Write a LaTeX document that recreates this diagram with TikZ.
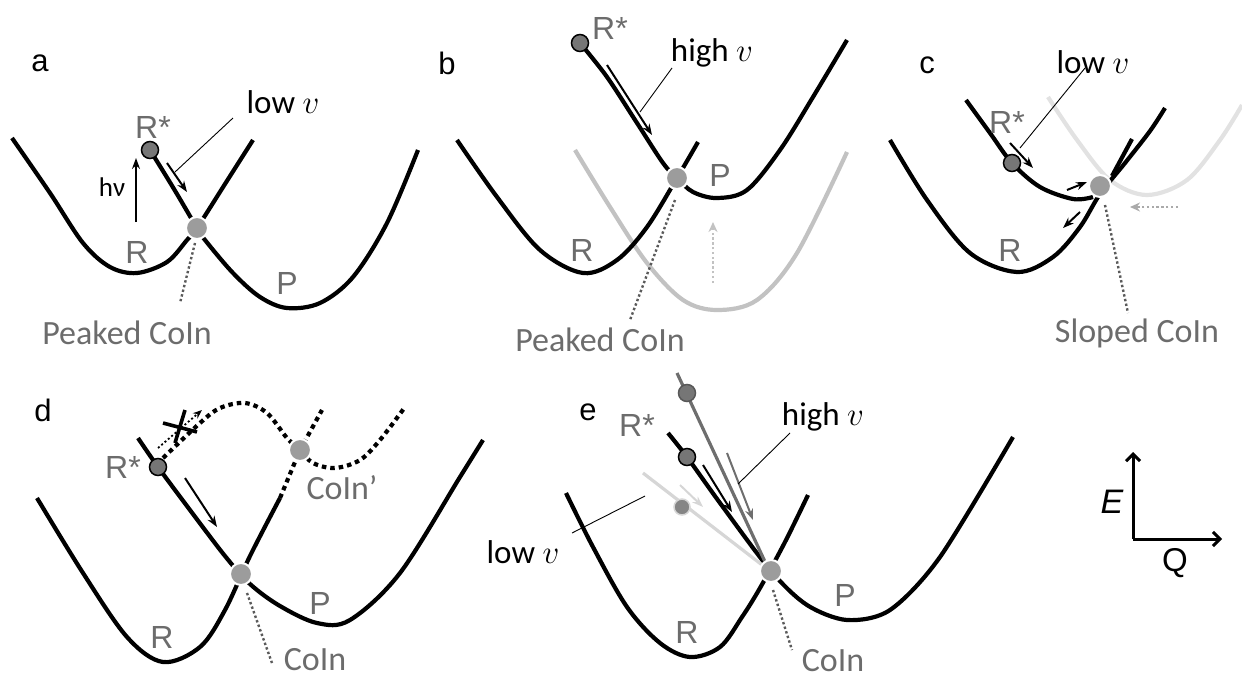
\documentclass[tikz,border=0pt]{standalone}
\usepackage{fix-cm}
\usepackage{fontspec}
\setmainfont{Carlito}
\newfontfamily\arialf{Liberation Sans}
\usetikzlibrary{arrows.meta}
\definecolor{tg}{HTML}{6C6C6C}
\definecolor{coing}{HTML}{9C9C9C}
\definecolor{rdotg}{HTML}{767676}
\definecolor{pale}{HTML}{C2C2C2}
\definecolor{paler}{HTML}{E2E2E2}
\definecolor{dotg}{HTML}{5A5A5A}
\definecolor{midg}{HTML}{6E6E6E}
\definecolor{lightl}{HTML}{D6D6D6}
\tikzset{
  surf/.style={line width=4.2pt},
  coin/.style={circle, fill=coing, draw=white, line width=2pt, minimum size=22pt, inner sep=0pt},
  rdot/.style={circle, fill=rdotg, draw=black, line width=1.5pt, minimum size=17pt, inner sep=0pt},
  glbl/.style={font=\arialf\fontsize{32}{36}\selectfont, text=tg, inner sep=0pt},
  plbl/.style={font=\arialf\fontsize{31}{36}\selectfont, inner sep=0pt},
  cilbl/.style={font=\fontsize{34}{40}\selectfont, text=tg, inner sep=0pt},
  vlbl/.style={font=\fontsize{33}{40}\selectfont, inner sep=0pt},
  lead/.style={line width=0.9pt},
  marr/.style={line width=2pt, -{Stealth[length=11pt,width=8pt]}},
  cdot/.style={line width=2.4pt, dotg, dash pattern=on 2.4pt off 2.4pt},
  garr/.style={line width=2.2pt, dash pattern=on 2.4pt off 2.4pt, -{Stealth[length=10pt,width=9pt]}},
  thickdot/.style={line width=4.2pt, dash pattern=on 4.5pt off 4pt},
}
\begin{document}
\begin{tikzpicture}[x=1pt,y=-1pt]
\useasboundingbox (0,0) rectangle (1242,678);

% ---------------- panel a
\node[plbl] (pa) at (40,63) {a};
\draw[surf] plot[smooth,tension=0.55] coordinates {(12,138) (50,193) (83,243) (110,267) (137,273) (167,262) (187,240) (197,228) (225,184) (253,140)};
\draw[surf] plot[smooth,tension=0.55] coordinates {(150,150) (174,189) (197,228) (205,240) (233,273) (260,297) (287,308) (320,303) (353,277) (387,223) (418,150)};
\node[coin] (ca) at (197,228) {};
\node[rdot] (ra) at (150,150) {};
\node[glbl] (rsa) at (153,127) {R*};
\node[glbl] (rla) at (137,252) {R};
\node[glbl] (pla) at (287,283) {P};
\coordinate (hva1) at (136,222);
\coordinate (hva2) at (136,158);
\draw[marr] (hva1) -- (hva2);
\node[font=\fontsize{27}{30}\selectfont, inner sep=0pt] (hva) at (112,187) {hν};
\coordinate (lva1) at (167,163);
\coordinate (lva2) at (187,192);
\draw[marr] (lva1) -- (lva2);
\node[vlbl] (lva) at (283,102) {low $v$};
\coordinate (lda) at (233,118);
\coordinate (ldb) at (175,172);
\draw[lead] (lda) -- (ldb);
\coordinate (dta) at (180,303);
\draw[cdot] (195,243) -- (dta);
\node[cilbl] (pca) at (127,333) {Peaked CoIn};

% ---------------- panel b
\node[plbl] (pb) at (447,63) {b};
\draw[surf, pale] plot[smooth,tension=0.55] coordinates {(575,150) (610,207) (647,263) (683,300) (717,310) (757,300) (797,253) (847,152)};
\draw[surf] plot[smooth,tension=0.55] coordinates {(457,140) (497,197) (540,250) (583,273) (617,260) (647,227) (677,178) (698,142)};
\draw[surf] plot[smooth,tension=0.55] coordinates {(580,43) (607,77) (637,123) (663,163) (677,178) (693,192) (717,198) (747,190) (780,150) (813,97) (847,40)};
\draw[garr, pale] (713,283) -- (713,222);
\node[coin] (cb) at (677,178) {};
\node[rdot] (rb) at (580,43) {};
\node[glbl] (rsb) at (610,28) {R*};
\node[glbl] (rlb) at (582,250) {R};
\node[glbl] (plb) at (720,175) {P};
\draw[marr] (607,65) -- (652,135);
\node[vlbl] (hvb) at (712,53) {high $v$};
\draw[lead] (672,68) -- (640,112);
\draw[cdot] (675,200) -- (630,320);
\node[cilbl] (pcb) at (600,340) {Peaked CoIn};

% ---------------- panel c
\node[plbl] (pc) at (927,65) {c};
\draw[surf, paler] plot[smooth,tension=0.55] coordinates {(1048,97) (1077,140) (1110,180) (1147,195) (1187,180) (1220,140) (1242,105)};
\draw[garr, paler!75!black] (1178,207) -- (1130,207);
\draw[surf] plot[smooth,tension=0.55] coordinates {(890,140) (927,200) (970,253) (1017,272) (1053,257) (1080,227) (1100,194) (1125,163) (1150,131) (1165,108)};
\draw[surf] plot[smooth,tension=0.55] coordinates {(966,100) (990,133) (1012,163) (1040,187) (1073,199) (1093,197)};
\draw[surf] (1112,176) -- (1132,139);
\node[coin] (cc) at (1100,186) {};
\node[rdot] (rc) at (1012,163) {};
\node[glbl] (rsc) at (1007,122) {R*};
\node[glbl] (rlc) at (1010,250) {R};
\draw[marr] (1010,143) -- (1033,168);
\draw[marr] (1067,190) -- (1087,182);
\draw[marr] (1080,212) -- (1063,228);
\node[vlbl] (lvc) at (1093,62) {low $v$};
\draw[lead] (1085,68) -- (1020,148);
\draw[cdot] (1105,205) -- (1128,313);
\node[cilbl] (scc) at (1137,333) {Sloped CoIn};

% ---------------- panel d
\node[plbl] (pd) at (43,410) {d};
\draw[surf] plot[smooth,tension=0.55] coordinates {(37,498) (83,573) (127,637) (163,662) (200,647) (225,610) (250,556) (280,498)};
\draw[thickdot] (280,498) -- (300,450) -- (322,410);
\draw[surf] plot[smooth,tension=0.55] coordinates {(138,438) (158,467) (190,510) (225,556) (250,584) (280,606) (317,623) (350,620) (400,573) (460,477) (483,440)};
\draw[thickdot] plot[smooth,tension=0.55] coordinates {(163,458) (200,423) (220,408) (245,403) (267,413) (287,438) (300,450) (313,463) (335,468) (360,460) (380,440) (405,407)};
\draw[line width=1.8pt, dash pattern=on 2pt off 2.4pt, -{Stealth[length=9pt,width=7pt]}] (158,448) -- (202,410);
\draw[line width=3.6pt] (185,410) -- (175,443);
\draw[line width=3.6pt] (163,423) -- (197,432);
\draw[marr] (185,478) -- (217,527);
\node[coin] (cd) at (241,574) {};
\node[coin] (cd2) at (300,450) {};
\node[rdot] (rd) at (158,467) {};
\node[glbl] (rsd) at (123,467) {R*};
\node[cilbl] (cpd) at (342,488) {CoIn’};
\node[glbl] (pld) at (320,603) {P};
\node[glbl] (rld) at (162,637) {R};
\draw[cdot] (247,593) -- (272,663);
\node[cilbl] (cid) at (315,660) {CoIn};

% ---------------- panel e
\node[plbl] (pe) at (588,412) {e};
\draw[surf] plot[smooth,tension=0.55] coordinates {(566,493) (593,547) (627,607) (660,643) (690,657) (720,647) (742,617) (760,588) (785,542) (808,495)};
\draw[surf] plot[smooth,tension=0.5] coordinates {(668,433) (687,457) (720,503) (771,571) (807,605) (847,620) (890,610) (940,557) (1013,437)};
\draw[line width=3.2pt, lightl] (643,473) -- (766,568);
\draw[line width=3.2pt, midg] (677,373) -- (767,566);
\draw[marr] (703,465) -- (732,512);
\draw[line width=2pt, midg, -{Stealth[length=11pt,width=8pt]}] (727,453) -- (753,520);
\draw[line width=2pt, lightl, -{Stealth[length=11pt,width=8pt]}] (680,485) -- (703,507);
\node[coin] (ce) at (771,571) {};
\node[rdot] (re) at (687,457) {};
\node[circle, fill=rdotg, draw=midg!80!black, line width=1.5pt, minimum size=17pt, inner sep=0pt] (re2) at (687,393) {};
\node[circle, fill=coing!85!black, draw=lightl, line width=1.5pt, minimum size=16pt, inner sep=0pt] (re3) at (682,507) {};
\node[glbl] (rse) at (637,425) {R*};
\node[glbl] (rle) at (687,632) {R};
\node[glbl] (ple) at (845,595) {P};
\node[vlbl] (hve) at (823,417) {high $v$};
\draw[lead] (790,433) -- (738,484);
\node[vlbl] (lve) at (523,552) {low $v$};
\draw[lead] (572,533) -- (645,496);
\draw[cdot] (773,590) -- (792,650);
\node[cilbl] (cie) at (833,661) {CoIn};

% ---------------- axes
\coordinate (ax0) at (1133,539);
\coordinate (axE) at (1133,452);
\coordinate (axQ) at (1222,539);
\draw[line width=3pt, -{Straight Barb[length=7pt,width=14pt]}] (ax0) -- (axE);
\draw[line width=3pt, -{Straight Barb[length=7pt,width=14pt]}] (ax0) -- (axQ);
\node[font=\arialf\itshape\fontsize{34}{36}\selectfont, inner sep=0pt] (El) at (1112,502) {E};
\node[font=\arialf\fontsize{33}{36}\selectfont, inner sep=0pt] (Ql) at (1175,563) {Q};
\end{tikzpicture}
\end{document}
